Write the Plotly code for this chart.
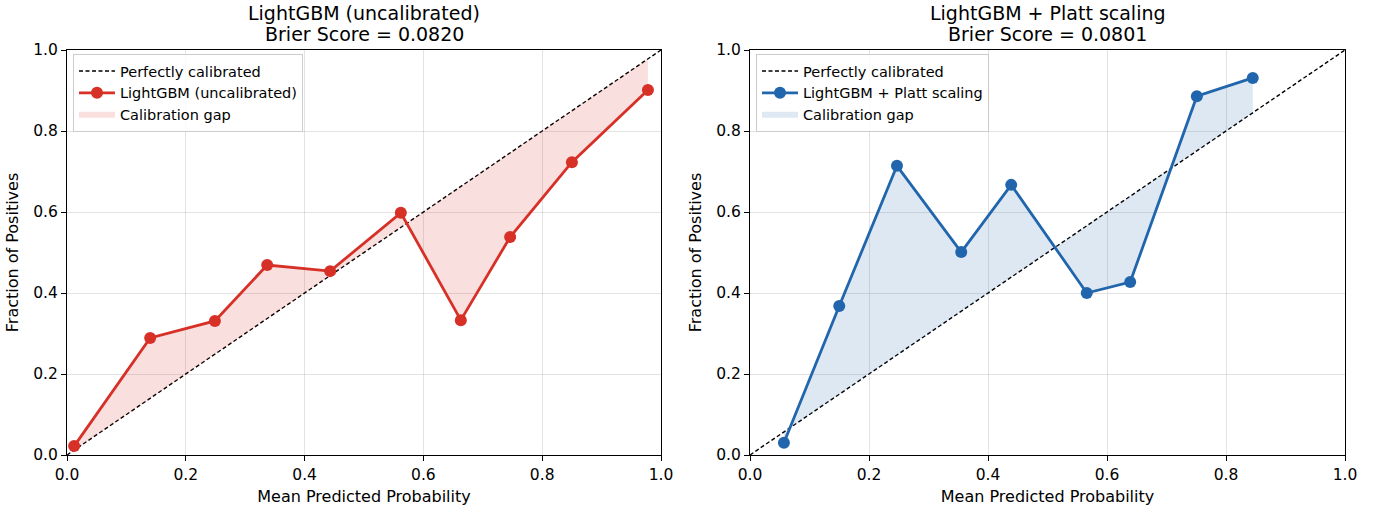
import plotly.graph_objects as go

# Data
uncal_x = [0.012, 0.140, 0.249, 0.337, 0.443, 0.562, 0.663, 0.746, 0.850, 0.978]
uncal_y = [0.022, 0.289, 0.331, 0.469, 0.454, 0.598, 0.333, 0.538, 0.723, 0.901]
platt_x = [0.057, 0.150, 0.247, 0.355, 0.439, 0.566, 0.639, 0.751, 0.845]
platt_y = [0.030, 0.368, 0.714, 0.501, 0.667, 0.400, 0.427, 0.886, 0.931]
title_lines = [["LightGBM (uncalibrated)", "Brier Score = 0.0820"],
               ["LightGBM + Platt scaling", "Brier Score = 0.0801"]]
names = ["LightGBM (uncalibrated)", "LightGBM + Platt scaling"]
colors = ["#d73027", "#2166ac"]
fills = ["rgba(215,48,39,0.15)", "rgba(33,102,172,0.15)"]
tick_vals = [0.0, 0.2, 0.4, 0.6, 0.8, 1.0]

W, H = 1380, 510
xdoms = [[67 / W, 661 / W], [750 / W, 1345 / W]]
ydom = [1 - 455 / H, 1 - 50 / H]

fig = go.Figure()
FONT = "DejaVu Sans"

series = [(uncal_x, uncal_y), (platt_x, platt_y)]
for i, (xs, ys) in enumerate(series):
    ax = "" if i == 0 else "2"
    leg = "legend" if i == 0 else "legend2"
    fig.add_trace(go.Scatter(x=[0, 1], y=[0, 1], mode="lines",
                             line=dict(color="black", dash="4px,2.5px", width=1.4),
                             name="Perfectly calibrated", legend=leg, legendrank=1,
                             xaxis="x" + ax, yaxis="y" + ax))
    # hidden diagonal at same x knots as fill base
    fig.add_trace(go.Scatter(x=xs, y=xs, mode="lines", line=dict(width=0, color="rgba(0,0,0,0)"),
                             showlegend=False, hoverinfo="skip",
                             xaxis="x" + ax, yaxis="y" + ax))
    fig.add_trace(go.Scatter(x=xs, y=ys, mode="none", fill="tonexty", fillcolor=fills[i],
                             name="Calibration gap", legend=leg, legendrank=3,
                             xaxis="x" + ax, yaxis="y" + ax))
    fig.add_trace(go.Scatter(x=xs, y=ys, mode="lines+markers",
                             line=dict(color=colors[i], width=2.8),
                             marker=dict(color=colors[i], size=12),
                             name=names[i], legend=leg, legendrank=2,
                             xaxis="x" + ax, yaxis="y" + ax))

axis_common = dict(range=[0, 1], tickvals=tick_vals, ticktext=[f"{v:.1f}" for v in tick_vals],
                   showline=True, linecolor="black", linewidth=1.2, mirror=True,
                   ticks="outside", ticklen=5, tickcolor="black", tickwidth=1.2,
                   showgrid=True, gridcolor="rgba(176,176,176,0.35)", gridwidth=1,
                   zeroline=False, automargin=False,
                   tickfont=dict(size=15.5, color="black", family=FONT))

layout = dict(
    width=W, height=H, margin=dict(l=0, r=0, t=0, b=0),
    paper_bgcolor="white", plot_bgcolor="white",
    font=dict(family=FONT, color="black", size=15),
    xaxis=dict(domain=xdoms[0], anchor="y", **axis_common,
               title=dict(text="Mean Predicted Probability", font=dict(size=16), standoff=8)),
    yaxis=dict(domain=ydom, anchor="x", **axis_common,
               title=dict(text="Fraction of Positives", font=dict(size=16), standoff=10)),
    xaxis2=dict(domain=xdoms[1], anchor="y2", **axis_common,
                title=dict(text="Mean Predicted Probability", font=dict(size=16), standoff=8)),
    yaxis2=dict(domain=ydom, anchor="x2", **axis_common,
                title=dict(text="Fraction of Positives", font=dict(size=16), standoff=10)),
    showlegend=True,
)
for i, key in enumerate(["legend", "legend2"]):
    layout[key] = dict(x=(73 if i == 0 else 756) / W, y=1 - 54 / H, xanchor="left", yanchor="top",
                       bgcolor="rgba(255,255,255,0.8)", bordercolor="#cccccc", borderwidth=1,
                       font=dict(size=14.5, family=FONT), tracegroupgap=0, itemwidth=36,
                       traceorder="normal")
fig.update_layout(**layout)

for i, lines in enumerate(title_lines):
    cx = (xdoms[i][0] + xdoms[i][1]) / 2
    for j, (txt, yc) in enumerate(zip(lines, [13, 34])):
        fig.add_annotation(text=txt, x=cx, y=1 - yc / H, xref="paper", yref="paper",
                           xanchor="center", yanchor="middle", showarrow=False,
                           font=dict(size=19, family=FONT, color="black"))

fig.write_html("out.html")
